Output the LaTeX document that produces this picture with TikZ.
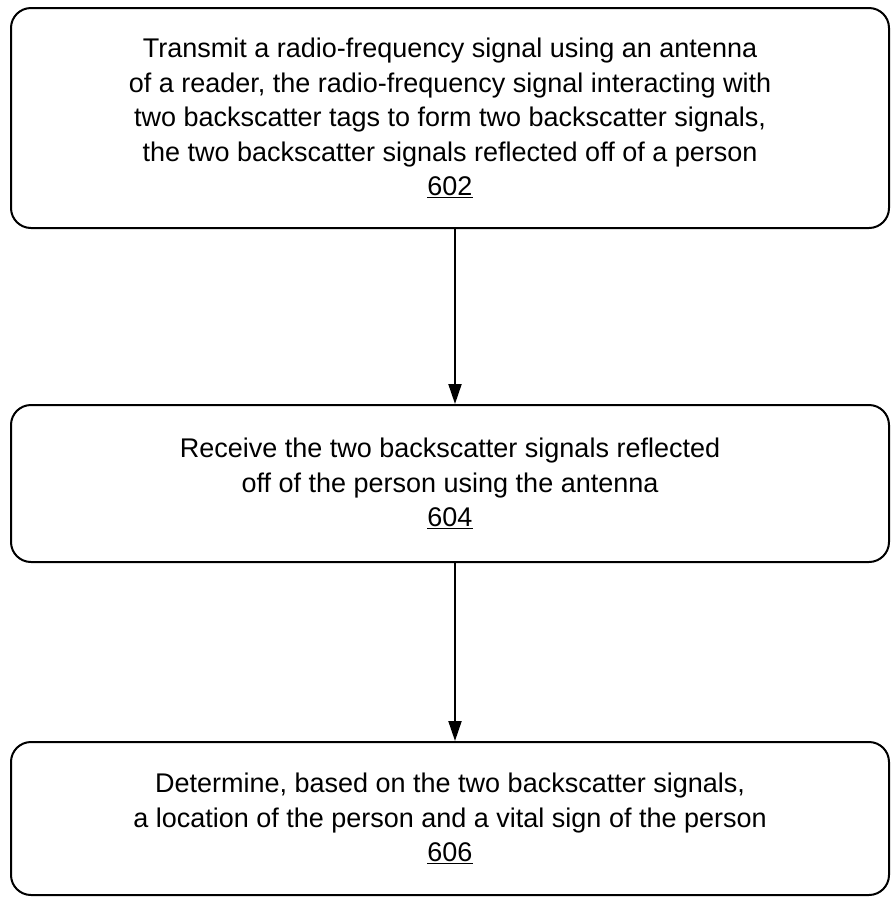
\documentclass[tikz,border=0pt]{standalone}
\usepackage{fontspec}
\setmainfont{Liberation Sans}
\usetikzlibrary{arrows.meta}
\begin{document}
\begin{tikzpicture}[x=1pt,y=1pt,
  stepbox/.style={draw=black, line width=2pt, rounded corners=20pt, align=center,
    minimum width=878pt, inner sep=0pt,
    font=\fontsize{27}{34.5}\selectfont},
  arr/.style={line width=2pt, -{Triangle[length=20pt,width=13pt]}}]
\useasboundingbox (0,0) rectangle (891,-898);
\node[stepbox, minimum height=220pt] (b1) at (450,-118)
  {Transmit a radio-frequency signal using an antenna\\
   of a reader, the radio-frequency signal interacting with\\
   two backscatter tags to form two backscatter signals,\\
   the two backscatter signals reflected off of a person\\
   \underline{602}};
\node[stepbox, minimum height=157pt] (b2) at (450,-483.5)
  {Receive the two backscatter signals reflected\\
   off of the person using the antenna\\
   \underline{604}};
\node[stepbox, minimum height=153pt] (b3) at (450,-818.5)
  {Determine, based on the two backscatter signals,\\
   a location of the person and a vital sign of the person\\
   \underline{606}};
\draw[arr] ([xshift=5pt]b1.south) -- ([xshift=5pt]b2.north);
\draw[arr] ([xshift=5pt]b2.south) -- ([xshift=5pt]b3.north);
\end{tikzpicture}
\end{document}
